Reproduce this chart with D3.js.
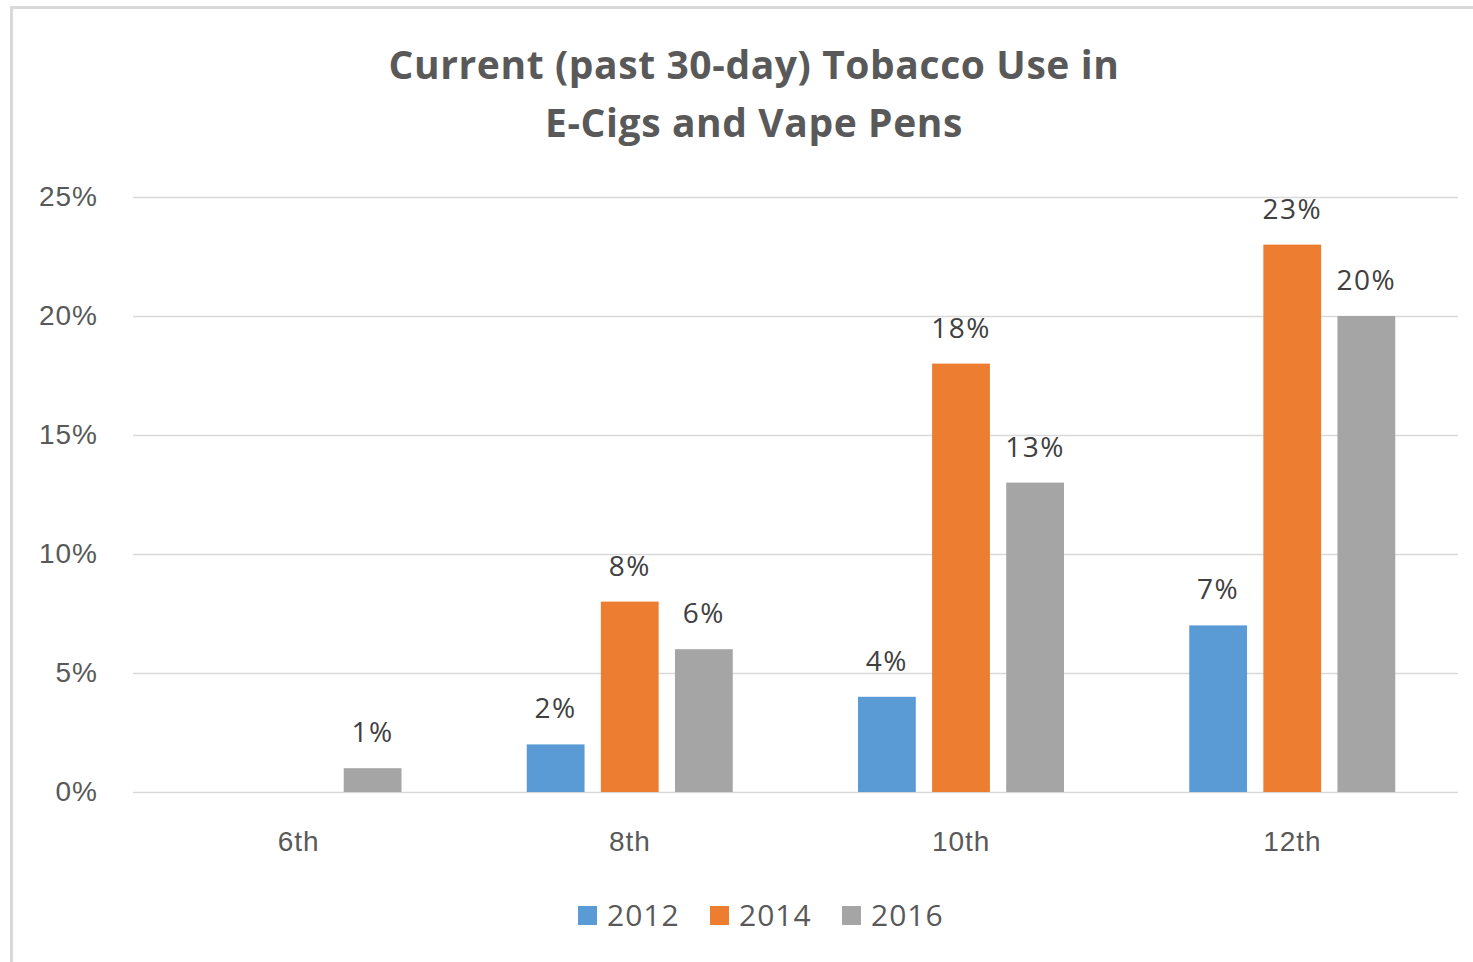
<!DOCTYPE html>
<html>
<head>
<meta charset="utf-8">
<script src="https://cdn.jsdelivr.net/npm/d3@7"></script>
<style>
  body { margin: 0; background: #fff; }
  svg { font-family: "Open Sans", "DejaVu Sans", sans-serif; }
  .grid line { stroke: #d9d9d9; stroke-width: 1.3; }
  .axis text { fill: #595959; font-size: 28px; letter-spacing: 1px; }
</style>
</head>
<body>
<svg id="chart" width="1473" height="962"></svg>
<script>
// chart data
var grades = ["6th", "8th", "10th", "12th"];
var years = ["2012", "2014", "2016"];
var values2012 = [0, 2, 4, 7];
var values2014 = [0, 8, 18, 23];
var values2016 = [1, 6, 13, 20];
var yTicks = [0, 5, 10, 15, 20, 25];
var colors = ["#5b9bd5", "#ed7d31", "#a5a5a5"];
var titleLines = ["Current (past 30-day) Tobacco Use in", "E-Cigs and Vape Pens"];

(function () {
  var svg = d3.select("#chart");
  var series = [values2012, values2014, values2016];

  // chart frame
  svg.append("rect")
    .attr("x", 11.5).attr("y", 7.5)
    .attr("width", 1480).attr("height", 980)
    .attr("fill", "#fff")
    .attr("stroke", "#d9d9d9").attr("stroke-width", 3);

  var plot = {left: 133, right: 1458, top: 197, bottom: 792};

  var x0 = d3.scaleBand().domain(grades).range([plot.left, plot.right]);
  var x1 = d3.scaleBand().domain(years).range([62.5, 268.5]).paddingInner(0.22);
  var y = d3.scaleLinear().domain([0, 25]).range([plot.bottom, plot.top]);

  // title
  svg.append("text")
    .attr("x", 754).attr("y", 79)
    .attr("text-anchor", "middle")
    .attr("fill", "#595959")
    .style("font-size", "39px").style("font-weight", "bold")
    .style("letter-spacing", "0.6px")
    .selectAll("tspan")
    .data(titleLines)
    .join("tspan")
      .attr("x", 754)
      .attr("dy", function(d, i) { return i === 0 ? 0 : 58; })
      .text(function(d) { return d; });

  // gridlines
  svg.append("g")
    .attr("class", "grid")
    .selectAll("line")
    .data(yTicks)
    .join("line")
      .attr("x1", plot.left).attr("x2", plot.right)
      .attr("y1", function(d) { return y(d) + 0.5; })
      .attr("y2", function(d) { return y(d) + 0.5; });

  // y axis labels
  var yAxis = svg.append("g")
    .attr("class", "axis")
    .attr("transform", "translate(98,0)")
    .call(d3.axisLeft(y).tickValues(yTicks).tickSize(0).tickPadding(0)
      .tickFormat(function(d) { return d + "%"; }));
  yAxis.select(".domain").remove();

  // x axis labels
  var xAxis = svg.append("g")
    .attr("class", "axis")
    .attr("transform", "translate(0," + (plot.bottom + 39) + ")")
    .call(d3.axisBottom(x0).tickSize(0).tickPadding(0));
  xAxis.select(".domain").remove();
  xAxis.selectAll("text").attr("dy", "0.71em");

  // bars + labels
  var groups = svg.append("g")
    .selectAll("g")
    .data(grades)
    .join("g")
      .attr("transform", function(d) { return "translate(" + x0(d) + ",0)"; });

  groups.each(function(g, gi) {
    var rows = years.map(function(yr, si) {
      return {year: yr, value: series[si][gi], color: colors[si]};
    }).filter(function(d) { return d.value > 0; });

    var sel = d3.select(this);
    sel.selectAll("rect")
      .data(rows)
      .join("rect")
        .attr("x", function(d) { return x1(d.year); })
        .attr("y", function(d) { return y(d.value); })
        .attr("width", x1.bandwidth())
        .attr("height", function(d) { return y(0) - y(d.value); })
        .attr("fill", function(d) { return d.color; });

    sel.selectAll("text")
      .data(rows)
      .join("text")
        .attr("x", function(d) { return x1(d.year) + x1.bandwidth() / 2; })
        .attr("y", function(d) { return y(d.value) - 26; })
        .attr("text-anchor", "middle")
        .attr("fill", "#404040")
        .style("font-size", "28px")
        .style("letter-spacing", "1.5px")
        .text(function(d) { return d.value + "%"; });
  });

  // legend
  var legendX = [578, 710, 842];
  var legend = svg.append("g")
    .selectAll("g")
    .data(years)
    .join("g")
      .attr("transform", function(d, i) { return "translate(" + legendX[i] + ",906)"; });

  legend.append("rect")
    .attr("width", 19).attr("height", 19)
    .attr("fill", function(d, i) { return colors[i]; });

  legend.append("text")
    .attr("x", 29).attr("y", 20)
    .attr("fill", "#595959")
    .style("font-size", "30px")
    .style("letter-spacing", "1px")
    .text(function(d) { return d; });
}());
</script>
</body>
</html>
